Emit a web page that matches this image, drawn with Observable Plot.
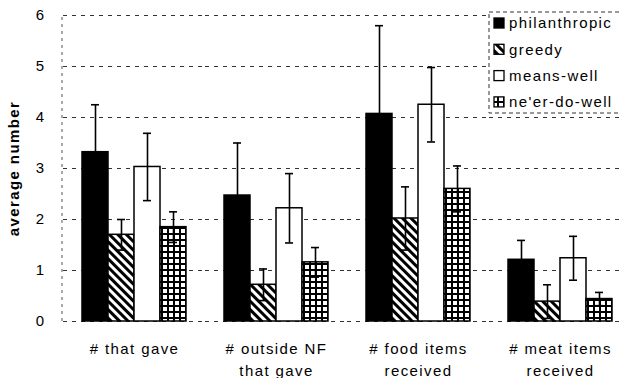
<!DOCTYPE html>
<html>
<head>
<meta charset="utf-8">
<script src="https://cdn.jsdelivr.net/npm/d3@7"></script>
<script src="https://cdn.jsdelivr.net/npm/@observablehq/plot@0.6"></script>
<style>
  html, body { margin: 0; padding: 0; background: #fff; overflow: hidden; }
  #chart { width: 621px; height: 378px; }
</style>
</head>
<body>
<div id="chart"></div>
<script>
// Outcome measures (one cluster of bars each)
const groups = ["# that gave", "# outside NF\nthat gave", "# food items\nreceived", "# meat items\nreceived"];
// Player types (one bar per cluster)
const series = ["philanthropic", "greedy", "means-well", "ne'er-do-well"];

// Mean values per outcome measure
const philanthropic = [3.32, 2.47, 4.07, 1.21];
const greedy        = [1.70, 0.72, 2.02, 0.39];
const meansWell     = [3.03, 2.22, 4.25, 1.24];
const neerDoWell    = [1.85, 1.16, 2.60, 0.44];

// Error bar half-lengths
const philanthropicErr = [0.93, 1.03, 1.73, 0.38];
const greedyErr        = [0.30, 0.31, 0.62, 0.33];
const meansWellErr     = [0.66, 0.68, 0.73, 0.43];
const neerDoWellErr    = [0.30, 0.29, 0.45, 0.13];

const yTicks = [0, 1, 2, 3, 4, 5, 6];

// Fill for each player type: solid, stripes, blank, crosshatch grid
const fills = {
  "philanthropic": "#000",
  "greedy": "url(#fill-greedy)",
  "means-well": "#fff",
  "ne'er-do-well": "url(#fill-neer)"
};

const means = [philanthropic, greedy, meansWell, neerDoWell];
const errs = [philanthropicErr, greedyErr, meansWellErr, neerDoWellErr];

const rows = [];
groups.forEach((g, i) => {
  series.forEach((s, j) => {
    rows.push({group: g, series: s, value: means[j][i], err: errs[j][i], fill: fills[s]});
  });
});

const plot = Plot.plot({
  width: 621,
  height: 378,
  marginLeft: 82,
  marginRight: 9,
  marginTop: 15,
  marginBottom: 57,
  style: {
    fontFamily: "'Liberation Sans', Arial, sans-serif",
    fontSize: "15px",
    color: "#000",
    background: "#fff",
    letterSpacing: "1.4px",
    overflow: "hidden"
  },
  fx: {domain: groups, paddingInner: 0.268, paddingOuter: 0, label: null},
  x: {domain: series, padding: 0, axis: null},
  y: {domain: [0, 6], label: "average number"},
  color: {type: "identity"},
  marks: [
    Plot.ruleY(yTicks, {stroke: "#333", strokeWidth: 1, strokeDasharray: "4,5", insetLeft: -19, insetRight: -19}),
    Plot.barY(rows, {fx: "group", x: "series", y: "value", fill: "fill", stroke: "#000", strokeWidth: 1.5}),
    Plot.ruleX(rows, {fx: "group", x: "series", y1: d => d.value - d.err, y2: d => d.value + d.err, stroke: "#000", strokeWidth: 1.6}),
    Plot.tickY(rows, {fx: "group", x: "series", y: d => d.value + d.err, insetLeft: 9, insetRight: 9, stroke: "#000", strokeWidth: 1.6}),
    Plot.tickY(rows, {fx: "group", x: "series", y: d => d.value - d.err, insetLeft: 9, insetRight: 9, stroke: "#000", strokeWidth: 1.6}),
    Plot.axisY({ticks: yTicks, tickSize: 0, tickPadding: 37, tickFormat: d3.format("d"), label: "average number", labelAnchor: "center", labelArrow: "none", labelOffset: 74}),
    Plot.axisFx({anchor: "bottom", tickSize: 0, tickPadding: 17, label: null, lineHeight: 1.45})
  ]
});

const svg = d3.select(plot);

// Pattern definitions for the hatched fills
const defs = svg.insert("defs", ":first-child");
const stripes = defs.append("pattern")
  .attr("id", "fill-greedy")
  .attr("patternUnits", "userSpaceOnUse")
  .attr("width", 6).attr("height", 6)
  .attr("patternTransform", "rotate(-45)");
stripes.append("rect").attr("width", 6).attr("height", 6).attr("fill", "#fff");
stripes.append("rect").attr("width", 3).attr("height", 6).attr("fill", "#000");

const grid = defs.append("pattern")
  .attr("id", "fill-neer")
  .attr("patternUnits", "userSpaceOnUse")
  .attr("width", 6).attr("height", 6);
grid.append("rect").attr("width", 6).attr("height", 6).attr("fill", "#000");
grid.append("rect").attr("x", 1).attr("y", 1).attr("width", 4).attr("height", 4).attr("fill", "#fff");

// Bold y-axis title
svg.selectAll('g[aria-label="y-axis label"] text').attr("font-weight", "bold");

// Dashed left edge of the plotting area
const y = plot.scale("y");
svg.append("line")
  .attr("x1", 62).attr("x2", 62)
  .attr("y1", y.apply(0)).attr("y2", y.apply(6))
  .attr("stroke", "#555").attr("stroke-dasharray", "3,4");

// Legend box in the upper right
const legend = svg.append("g").attr("aria-label", "legend").attr("text-anchor", "start");
legend.append("rect")
  .attr("x", 489).attr("y", 12).attr("width", 140).attr("height", 101)
  .attr("fill", "#fff").attr("stroke", "#333").attr("stroke-dasharray", "4,3");
series.forEach((s, j) => {
  const cy = 23 + j * 26.3;
  legend.append("rect")
    .attr("x", 494).attr("y", cy - 5).attr("width", 10).attr("height", 10)
    .attr("fill", fills[s]).attr("stroke", "#000").attr("stroke-width", 1.3);
  legend.append("text")
    .attr("x", 509).attr("y", cy).attr("dy", "0.35em")
    .attr("text-anchor", "start")
    .text(s);
});

document.getElementById("chart").appendChild(plot);
</script>
</body>
</html>
